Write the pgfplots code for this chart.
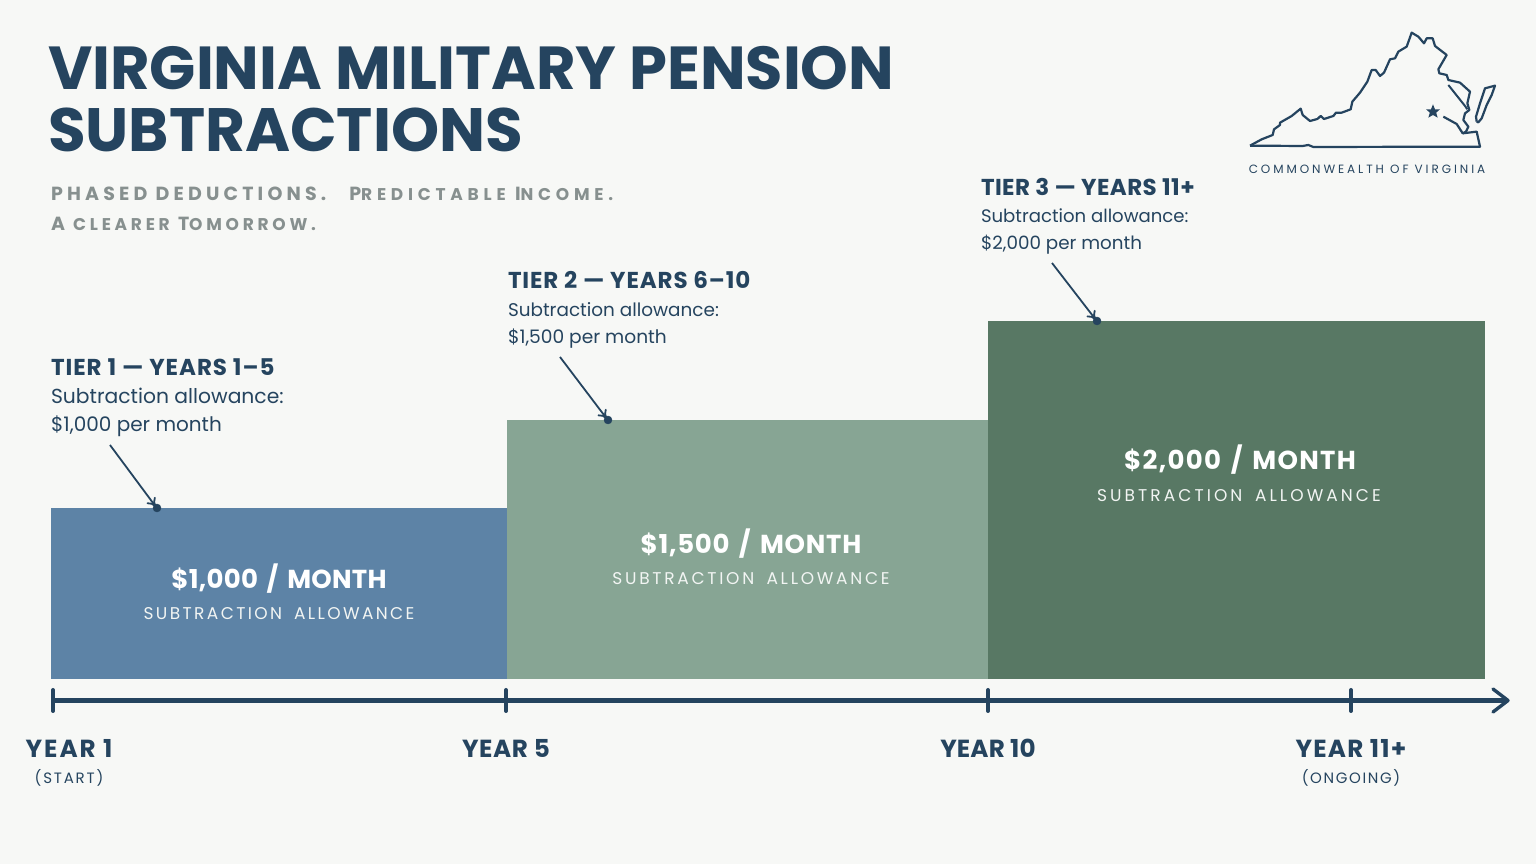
\documentclass[border=0pt]{standalone}
\usepackage{pgfplots}
\pgfplotsset{compat=1.18}
\usepackage{fontspec}
\usetikzlibrary{arrows.meta}
\setmainfont{Poppins}
\newcommand\fs[1]{\fontsize{#1}{#1}\selectfont}
\newcommand\ls[1]{\addfontfeatures{LetterSpace=#1}}
\definecolor{bg}{HTML}{F7F8F6}
\definecolor{navy}{HTML}{25445F}
\definecolor{subgrey}{HTML}{87908F}
\definecolor{tierA}{HTML}{5D83A6}
\definecolor{tierB}{HTML}{87A594}
\definecolor{tierC}{HTML}{587864}
\definecolor{white2}{HTML}{F2F5F3}
\newcommand\lab[5]{\node[anchor=base #3,inner sep=0pt,outer sep=0pt,text=#4] at (axis cs:#1,{864-#2}) {#5};}
\begin{document}
\begin{tikzpicture}
\begin{axis}[
  scale only axis,width=1536pt,height=864pt,
  xmin=0,xmax=1536,ymin=0,ymax=864,
  axis lines=none,ticks=none,
  axis background/.style={fill=bg},
  clip=true]
% bars (pixel-space heights above the chart base at y=185)
\addplot[fill=tierA,draw=none] coordinates {(51,185)(507,185)(507,356)(51,356)} -- cycle;
\addplot[fill=tierB,draw=none] coordinates {(507,185)(988,185)(988,444)(507,444)} -- cycle;
\addplot[fill=tierC,draw=none] coordinates {(988,185)(1485,185)(1485,543)(988,543)} -- cycle;
% timeline
\addplot[navy,line width=5.2pt] coordinates {(52,163.5)(1505,163.5)};
\addplot[navy,line width=3.4pt,line cap=round,line join=round] coordinates {(1493,175)(1508,163.5)(1493,152)};
\addplot[navy,line width=4pt,line cap=round] coordinates {(53,174)(53,153)};
\addplot[navy,line width=4pt,line cap=round] coordinates {(506,174)(506,153)};
\addplot[navy,line width=4pt,line cap=round] coordinates {(988,174)(988,153)};
\addplot[navy,line width=4pt,line cap=round] coordinates {(1351,174)(1351,153)};
% callouts
\addplot[navy,line width=1.8pt,-{To[length=9pt,width=11pt]}] coordinates {(110,419)(156,357)};
\addplot[navy,line width=1.8pt,-{To[length=9pt,width=11pt]}] coordinates {(560,507)(607,445)};
\addplot[navy,line width=1.8pt,-{To[length=9pt,width=11pt]}] coordinates {(1052,601)(1096,544)};
\addplot[only marks,mark=*,mark size=4pt,navy] coordinates {(157,356)(608,444)(1097,543)};
% Virginia outline
\addplot[navy,line width=2.2pt,line join=round] table[x expr=1230+\thisrow{x}/3,y expr=844-\thisrow{y}/3] {
x y
60 377
95 358
128 345
132 328
150 315
150 308
185 288
212 266
218 285
240 303
262 297
272 288
282 297
310 288
318 278
335 278
362 268
367 245
390 218
412 185
425 150
437 150
450 168
462 158
480 118
495 115
505 95
530 80
545 38
565 50
582 70
590 55
608 55
615 78
650 105
625 148
628 160
650 165
655 180
690 188
720 215
712 250
718 270
705 280
700 300
715 320
708 335
698 340
680 312
640 290
};
\addplot[navy,line width=2.2pt,line join=round] table[x expr=1230+\thisrow{x}/3,y expr=844-\thisrow{y}/3] {
x y
698 340
740 335
750 380
250 381
235 375
218 378
60 377
};
\addplot[navy,line width=2pt] table[x expr=1230+\thisrow{x}/3,y expr=844-\thisrow{y}/3] {
x y
655 195
705 258
712 268
};
\addplot[navy,line width=2.2pt,line join=round] table[x expr=1230+\thisrow{x}/3,y expr=844-\thisrow{y}/3] {
x y
740 305
738 290
750 250
765 205
795 197
785 225
770 255
755 295
745 307
740 305
};
\addplot[fill=navy,draw=none] table[x expr=1230+\thisrow{x}/3,y expr=844-\thisrow{y}/3] {
x y
609 253
615 268
630 268
618.5 278
623 293
609 285
595 293
599.5 278
588 268
603 268
} -- cycle;
% title
\lab{48}{89.5}{west}{navy}{\fs{60.7}\bfseries VIRGINIA MILITARY PENSION}
\lab{48}{151.5}{west}{navy}{\fs{61.2}\bfseries SUBTRACTIONS}
\lab{51}{201}{west}{subgrey}{\fs{19}\bfseries\ls{22}PHASED DEDUCTIONS.\hspace{23pt}\ls{28}P{\fs{17}REDICTABLE} I{\fs{17}NCOME.}}
\lab{51}{231}{west}{subgrey}{\fs{19}\bfseries\ls{22}A {\fs{17}CLEARER} T{\fs{17}OMORROW.}}
% tier notes
\lab{51}{376}{west}{navy}{\fs{23}\bfseries\ls{4.2}TIER 1 — YEARS 1–5}
\lab{51}{404}{west}{navy}{\fs{20.3}Subtraction allowance:}
\lab{51}{431.5}{west}{navy}{\fs{20}\$1,000 per month}
\lab{508}{289}{west}{navy}{\fs{23}\bfseries\ls{3.8}TIER 2 — YEARS 6–10}
\lab{508}{316.5}{west}{navy}{\fs{18.4}Subtraction allowance:}
\lab{508}{343.5}{west}{navy}{\fs{18.6}\$1,500 per month}
\lab{981}{196}{west}{navy}{\fs{23}\bfseries\ls{1.8}TIER 3 — YEARS 11+}
\lab{981}{223}{west}{navy}{\fs{18.1}Subtraction allowance:}
\lab{981}{249.5}{west}{navy}{\fs{18.3}\$2,000 per month}
% bar labels
\lab{279}{589}{}{white}{\fs{26}\bfseries\ls{1}\$1,000\hspace{3pt} /\hspace{3pt} MONTH}
\lab{279}{620}{}{white2}{\fs{17}\ls{14}SUBTRACTION\hspace{5pt} ALLOWANCE}
\lab{751}{554}{}{white}{\fs{26}\bfseries\ls{3}\$1,500\hspace{3pt} /\hspace{3pt} MONTH}
\lab{751}{585}{}{white2}{\fs{17}\ls{16}SUBTRACTION\hspace{5pt} ALLOWANCE}
\lab{1240}{470}{}{white}{\fs{26}\bfseries\ls{5}\$2,000\hspace{3pt} /\hspace{3pt} MONTH}
\lab{1239}{502}{}{white2}{\fs{17}\ls{18}SUBTRACTION\hspace{5pt} ALLOWANCE}
% axis labels
\lab{69}{758}{}{navy}{\fs{24.7}\bfseries\ls{8}YEAR 1}
\lab{69}{784}{}{navy}{\fs{15}\ls{12}(START)}
\lab{506}{758}{}{navy}{\fs{24.7}\bfseries\ls{2.5}YEAR 5}
\lab{988}{758}{}{navy}{\fs{24.7}\bfseries\ls{0.5}YEAR 10}
\lab{1351}{758}{}{navy}{\fs{24.7}\bfseries\ls{5}YEAR 11+}
\lab{1351}{784}{}{navy}{\fs{15}\ls{11}(ONGOING)}
\lab{1367}{174}{}{navy}{\fs{12}\ls{24.3}COMMONWEALTH OF VIRGINIA}
\end{axis}
\end{tikzpicture}
\end{document}
